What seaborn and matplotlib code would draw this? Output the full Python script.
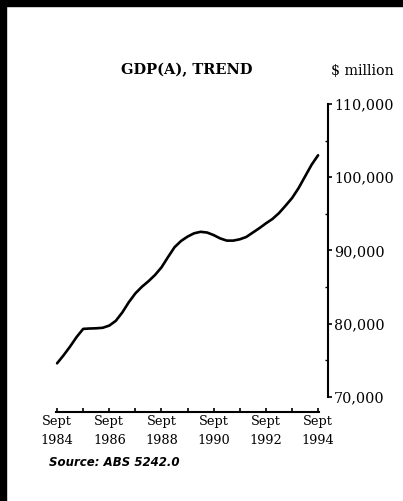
"""
GDP(A) trend chart, ABS style
"""
import matplotlib
matplotlib.use('Agg')
import matplotlib.pyplot as plt
import matplotlib.patches as mpatches
import matplotlib.ticker as mticker
import numpy as np
import pandas as pd
import seaborn as sns

# quarterly trend values, Sept 1984 .. Sept 1994 ($ million)
quarters = np.arange(1984.75, 1994.76, 0.25)
gdp_trend = [74600, 75700, 76900, 78200, 79300, 79350, 79380, 79450, 79750,
             80400, 81550, 82950, 84150, 85050, 85800, 86650, 87700, 89100,
             90450, 91300, 91900, 92350, 92550, 92450, 92100, 91650, 91350,
             91350, 91530, 91850, 92450, 93050, 93700, 94300, 95100, 96100,
             97150, 98500, 100100, 101700, 103000]

tick_years = [1984, 1986, 1988, 1990, 1992, 1994]
tick_labels = ['Sept\n%d' % y for y in tick_years]
y_ticks = [70000, 80000, 90000, 100000, 110000]

sns.set_style('ticks')
plt.rcParams['font.family'] = ['DejaVu Serif']
plt.rcParams['text.color'] = 'black'
plt.rcParams['xtick.color'] = 'black'
plt.rcParams['ytick.color'] = 'black'
plt.rcParams['axes.edgecolor'] = 'black'

W, H = 403, 501
fig = plt.figure(figsize=(W / 100, H / 100), dpi=100)
ax = fig.add_axes([55 / W, 1 - 397 / H, 273 / W, 293 / H])

df = pd.DataFrame({'quarter': quarters, 'gdp': gdp_trend})
sns.lineplot(data=df, x='quarter', y='gdp', ax=ax, color='black', linewidth=1.9)

ax.set_xlim(1984.67, 1995.13)
ax.set_ylim(70000, 110000)
ax.set_xlabel('')
ax.set_ylabel('')

# y axis on the right
ax.spines['left'].set_visible(False)
ax.spines['top'].set_visible(False)
ax.spines['right'].set_linewidth(1.5)
ax.yaxis.tick_right()
ax.set_yticks(y_ticks)
ax.yaxis.set_major_formatter(mticker.FuncFormatter(lambda v, p: f'{v:,.0f}'))
ax.yaxis.set_minor_locator(mticker.MultipleLocator(5000))
ax.tick_params(axis='y', which='major', direction='out', length=3, width=1.2,
               pad=1.5, labelsize=10.3, colors='black')
ax.tick_params(axis='y', which='minor', direction='in', length=2, width=1)

# x axis dropped a little below the plot
ax.spines['bottom'].set_position(('outward', 11))
ax.spines['bottom'].set_bounds(1984.7, 1994.8)
ax.spines['bottom'].set_linewidth(1.5)
ax.set_xticks([y + 0.75 for y in tick_years])
ax.set_xticklabels(tick_labels, linespacing=1.6)
ax.xaxis.set_minor_locator(mticker.FixedLocator([y + 1.75 for y in tick_years[:-1]]))
ax.tick_params(axis='x', which='both', direction='in', length=3, width=1.2,
               pad=2, labelsize=9.3, colors='black')

fig.text(187 / W, 1 - 70 / H, 'GDP(A), TREND', ha='center', va='center',
         fontsize=10.5, fontweight='bold', color='black')
fig.text(362 / W, 1 - 71 / H, '$ million', ha='center', va='center',
         fontsize=10.3, color='black')
fig.text(49 / W, 1 - 463 / H, 'Source: ABS 5242.0', ha='left', va='center',
         family='DejaVu Sans', style='italic', fontweight='bold', fontsize=8.5,
         color='black')

# black scan edges
fig.patches.append(mpatches.Rectangle((0, 1 - 6 / H), 1, 6 / H, transform=fig.transFigure,
                                      color='black', zorder=10))
fig.patches.append(mpatches.Rectangle((0, 0), 6 / W, 1, transform=fig.transFigure,
                                      color='black', zorder=10))

fig.savefig('out.png', dpi=100)
